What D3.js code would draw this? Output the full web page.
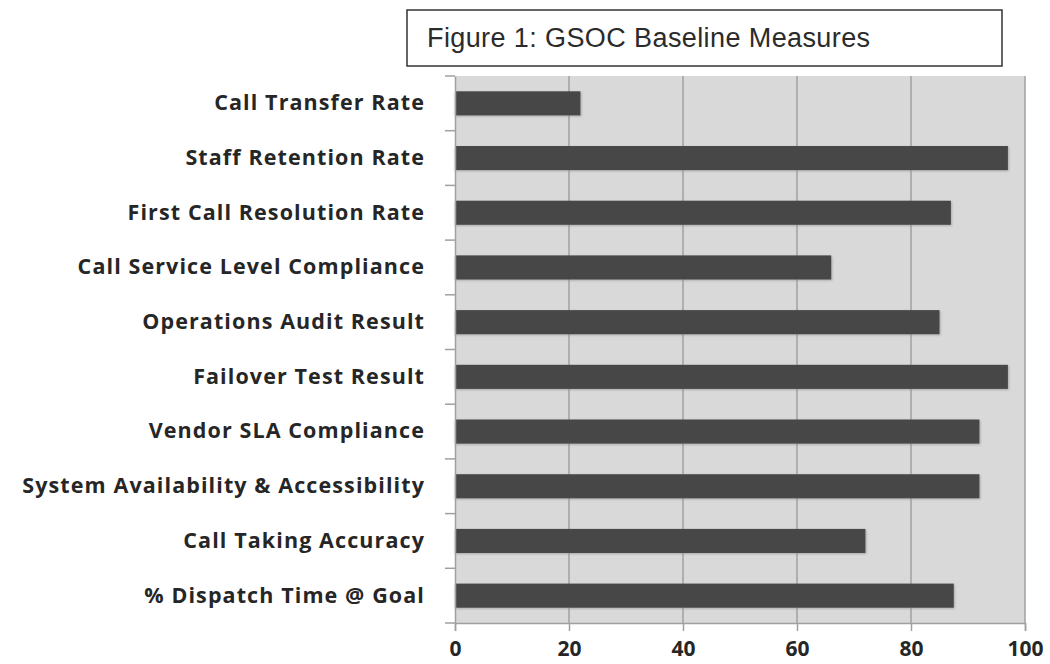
<!DOCTYPE html>
<html><head><meta charset="utf-8">
<script src="https://cdn.jsdelivr.net/npm/d3@7"></script>
<style>body{margin:0;background:#fff}svg{display:block}</style>
</head><body>
<svg id="c" width="1050" height="664"></svg>
<script>
const titleText = "Figure 1: GSOC Baseline Measures";
const categories = ["Call Transfer Rate","Staff Retention Rate","First Call Resolution Rate","Call Service Level Compliance","Operations Audit Result","Failover Test Result","Vendor SLA Compliance","System Availability & Accessibility","Call Taking Accuracy","% Dispatch Time @ Goal"];
const values = [22,97,87,66,85,97,92,92,72,87.5];
const xTicks = [0,20,40,60,80,100];

const svg = d3.select("#c");
const L = 455, R = 1025, T = 76, B = 623;
const x = d3.scaleLinear().domain([0,100]).range([L,R]);
const y = d3.scaleBand().domain(categories).range([T,B]).paddingInner(0.56).paddingOuter(0.28);
const yb = d3.scaleBand().domain(categories).range([T,B]);

svg.append("rect").attr("x",L).attr("y",T).attr("width",R-L).attr("height",B-T).attr("fill","#d9d9d9");
svg.append("g").selectAll("line").data(xTicks.slice(1)).join("line")
  .attr("x1",d=>x(d)).attr("x2",d=>x(d)).attr("y1",T).attr("y2",B)
  .attr("stroke","#a0a0a0").attr("stroke-width",1.5);

const defs = svg.append("defs");
const f = defs.append("filter").attr("id","sh").attr("x","-5%").attr("y","-30%").attr("width","110%").attr("height","160%");
f.append("feGaussianBlur").attr("stdDeviation",1);

svg.append("g").selectAll("rect").data(categories).join("rect")
  .attr("x",x(0)).attr("y",d=>y(d)+1).attr("width",(d,i)=>x(values[i])-x(0)+1).attr("height",y.bandwidth())
  .attr("fill","#888").attr("opacity",0.6).attr("filter","url(#sh)");
svg.append("g").selectAll("rect").data(categories).join("rect")
  .attr("x",x(0)).attr("y",d=>y(d)).attr("width",(d,i)=>x(values[i])-x(0)).attr("height",y.bandwidth())
  .attr("fill","#474747");

// y axis
const ya = svg.append("g").attr("transform",`translate(${L},0)`)
  .call(d3.axisLeft(yb).tickSize(0).tickPadding(30));
ya.select(".domain").attr("stroke","#a0a0a0").attr("stroke-width",1.5);
ya.selectAll("text").attr("font-family","'Open Sans', sans-serif").attr("font-weight",700).attr("font-size",21.5)
  .attr("letter-spacing",1.1).attr("fill","#262626");
svg.append("g").selectAll("line").data(d3.range(categories.length+1)).join("line")
  .attr("x1",L-10).attr("x2",L).attr("y1",i=>T+i*yb.step()).attr("y2",i=>T+i*yb.step())
  .attr("stroke","#a0a0a0").attr("stroke-width",1.5);

// x axis
const xa = svg.append("g").attr("transform",`translate(0,${B})`)
  .call(d3.axisBottom(x).tickValues(xTicks).tickSize(8).tickPadding(10));
xa.select(".domain").attr("stroke","#a0a0a0").attr("stroke-width",1.5);
xa.selectAll(".tick line").attr("stroke","#a0a0a0").attr("stroke-width",1.5);
xa.selectAll("text").attr("font-family","'Open Sans', sans-serif").attr("font-weight",700).attr("font-size",21).attr("fill","#262626");

// title box
svg.append("rect").attr("x",407).attr("y",10).attr("width",595).attr("height",56)
  .attr("fill","#fff").attr("stroke","#333").attr("stroke-width",1.5);
svg.append("text").attr("x",427).attr("y",47).text(titleText)
  .attr("font-family","Liberation Sans, Arial, sans-serif").attr("font-size",27).attr("letter-spacing",0.4).attr("fill","#2b2b2b");
</script>
</body></html>
